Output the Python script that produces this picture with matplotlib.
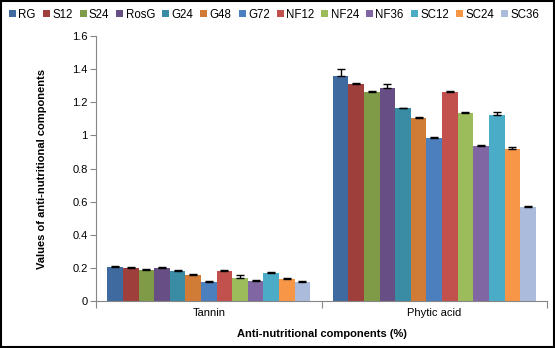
import numpy as np
import matplotlib.pyplot as plt
from matplotlib.patches import Rectangle

plt.rcParams['font.family'] = ['Liberation Sans', 'DejaVu Sans']

categories = ["Tannin", "Phytic acid"]
samples = ["RG", "S12", "S24", "RosG", "G24", "G48", "G72",
           "NF12", "NF24", "NF36", "SC12", "SC24", "SC36"]

tannin = [0.208, 0.202, 0.190, 0.202, 0.184, 0.159, 0.116,
          0.184, 0.141, 0.122, 0.171, 0.135, 0.116]
tannin_err = [0.006, 0.002, 0.005, 0.006, 0.002, 0.002, 0.002,
              0.002, 0.016, 0.002, 0.002, 0.002, 0.002]
phytic = [1.361, 1.313, 1.259, 1.283, 1.163, 1.102, 0.982,
          1.259, 1.133, 0.934, 1.120, 0.916, 0.566]
phytic_err = [0.040, 0.004, 0.010, 0.028, 0.004, 0.010, 0.010,
              0.010, 0.010, 0.010, 0.022, 0.016, 0.006]

colors = ["#3F6A9F", "#9E3F3C", "#7F9B47", "#674F86", "#3A8BA4", "#D07C37",
          "#4B7FBD", "#C2514E", "#9CBB5A", "#8066A3", "#4AACC6", "#F79646", "#AABBDB"]

fig = plt.figure(figsize=(5.55, 3.48), dpi=100)
ax = fig.add_axes([0.173, 0.135, 0.8126, 0.7616])

n = len(samples)
group_w = 0.9
w = group_w / n
x = np.arange(len(categories))
for i, s in enumerate(samples):
    vals = [tannin[i], phytic[i]]
    errs = [tannin_err[i], phytic_err[i]]
    pos = x - group_w / 2 + w * (i + 0.5)
    ax.bar(pos, vals, width=w, color=colors[i], label=s, zorder=2)
    ax.errorbar(pos, vals, yerr=[[0, 0], errs], fmt='none', ecolor='black',
                elinewidth=1, capsize=3, capthick=1, zorder=3)

ax.set_xlim(-0.5, 1.5)
ax.set_ylim(0, 1.6)
ax.set_yticks(np.arange(0, 1.61, 0.2))
ax.set_yticklabels(["0", "0.2", "0.4", "0.6", "0.8", "1", "1.2", "1.4", "1.6"])
ax.set_xticks([-0.5, 0.5, 1.5])
ax.set_xticklabels([])
ax.set_xticks(x, minor=True)
ax.set_xticklabels(categories, minor=True)
ax.tick_params(axis='x', which='minor', length=0, pad=5, labelsize=8)
ax.tick_params(axis='x', which='major', length=5, color='#868686')
ax.tick_params(axis='y', length=4, color='#868686', pad=2, labelsize=8)

for sp in ['top', 'right']:
    ax.spines[sp].set_visible(False)
for sp in ['left', 'bottom']:
    ax.spines[sp].set_color('#868686')

ax.set_ylabel("Values of anti-nutritional components", fontsize=8,
              fontweight='bold', labelpad=18)
ax.set_xlabel("Anti-nutritional components (%)", fontsize=8,
              fontweight='bold', labelpad=8)

fig.legend(loc='upper left', bbox_to_anchor=(0.004, 0.995), ncol=n,
           frameon=False, fontsize=8.3, handlelength=0.6, handleheight=0.6,
           handletextpad=0.2, columnspacing=0.62, borderaxespad=0.2)

fig.patches.append(Rectangle((0.001, 0.002), 0.997, 0.995, transform=fig.transFigure,
                             fill=False, edgecolor='black', linewidth=1.5))

fig.savefig("out.png", dpi=100)
